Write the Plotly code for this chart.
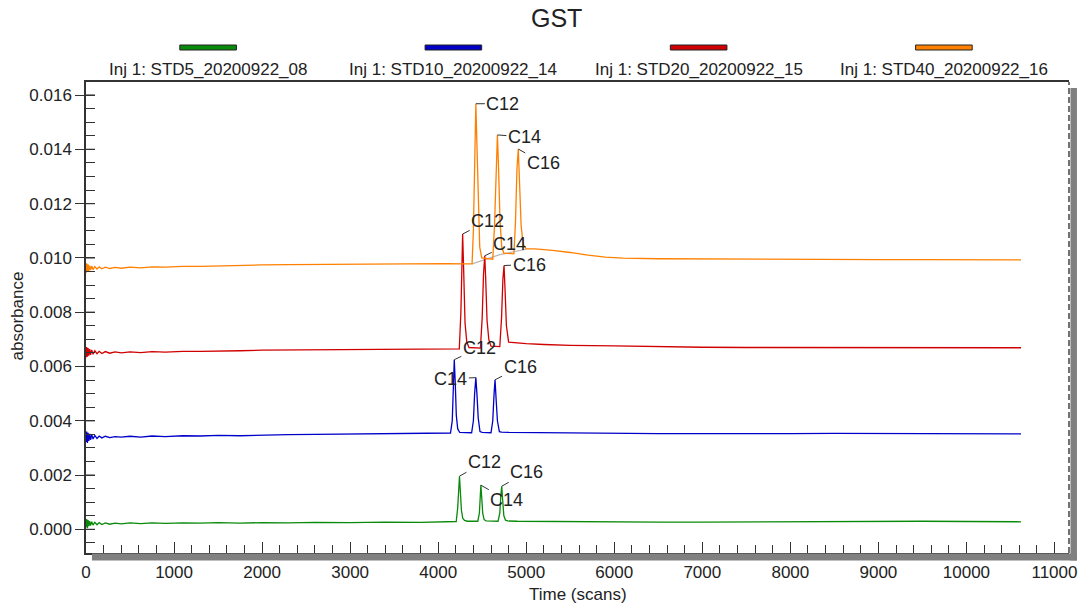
import plotly.graph_objects as go

# ---------------- data ----------------
series_names = ["Inj 1: STD5_20200922_08", "Inj 1: STD10_20200922_14",
                "Inj 1: STD20_20200922_15", "Inj 1: STD40_20200922_16"]
series_colors = ["#0a8a0a", "#0000c8", "#d00000", "#ff8000"]

green_scan = [0, 8, 16, 24, 32, 42, 52, 65, 80, 100, 125, 150, 180, 220, 270, 330, 400, 500, 620, 750,
              900, 1100, 1300, 1500, 1750, 2000, 2300, 2600, 3000, 3400, 3800, 4100,
              4205, 4222, 4232, 4242, 4252, 4264, 4280, 4300, 4330,
              4450, 4468, 4477, 4485, 4494, 4506, 4522, 4545,
              4680, 4700, 4713, 4722, 4732, 4746, 4765, 4790,
              4900, 5200, 5600, 6000, 6500, 7000, 7500, 8000, 8500, 9000, 9500, 10000, 10300, 10620]
green_abs = [0.00008, 0.00038, 0.00004, 0.00034, 0.00012, 0.00030, 0.00014, 0.00028, 0.00016, 0.00026,
             0.00017, 0.00025, 0.00018, 0.00024, 0.00019, 0.00023, 0.00020, 0.00024, 0.00021, 0.00024,
             0.00022, 0.00024, 0.00023, 0.00025, 0.00023, 0.00025, 0.00024, 0.00026, 0.00025, 0.00027,
             0.00026, 0.00028,
             0.00029, 0.00080, 0.00160, 0.00196, 0.00140, 0.00070, 0.00040, 0.00033, 0.00030,
             0.00030, 0.00060, 0.00130, 0.00163, 0.00120, 0.00060, 0.00036, 0.00031,
             0.00030, 0.00060, 0.00130, 0.00159, 0.00110, 0.00050, 0.00034, 0.00031,
             0.00030, 0.00029, 0.00028, 0.00028, 0.00027, 0.00027, 0.00028, 0.00029, 0.00030, 0.00030,
             0.00030, 0.00029, 0.00029, 0.00028]

blue_scan = [0, 8, 16, 24, 32, 42, 52, 65, 80, 100, 125, 150, 180, 220, 270, 330, 400, 500, 620, 750,
             900, 1100, 1300, 1500, 1750, 2000, 2300, 2600, 3000, 3400, 3800, 4000,
             4140, 4160, 4172, 4183, 4194, 4206, 4222, 4245,
             4380, 4400, 4414, 4428, 4440, 4455, 4475, 4500,
             4600, 4620, 4635, 4646, 4658, 4673, 4695, 4720,
             4800, 5100, 5500, 6000, 6500, 7000, 7500, 8000, 8500, 9000, 9500, 10000, 10300, 10620]
blue_abs = [0.00322, 0.00360, 0.00318, 0.00356, 0.00326, 0.00352, 0.00330, 0.00349, 0.00333, 0.00346,
            0.00335, 0.00344, 0.00337, 0.00343, 0.00338, 0.00342, 0.00340, 0.00343, 0.00340, 0.00344,
            0.00342, 0.00345, 0.00344, 0.00346, 0.00345, 0.00348, 0.00349, 0.00350, 0.00351, 0.00352,
            0.00354, 0.00353,
            0.00355, 0.00400, 0.00550, 0.00625, 0.00540, 0.00420, 0.00370, 0.00357,
            0.00356, 0.00400, 0.00500, 0.00559, 0.00500, 0.00410, 0.00360, 0.00357,
            0.00356, 0.00400, 0.00500, 0.00551, 0.00480, 0.00400, 0.00360, 0.00358,
            0.00357, 0.00356, 0.00355, 0.00354, 0.00353, 0.00353, 0.00352, 0.00353, 0.00354, 0.00353,
            0.00353, 0.00352, 0.00352, 0.00352]

red_scan = [0, 8, 16, 24, 32, 42, 52, 65, 80, 100, 125, 150, 180, 220, 270, 330, 400, 500, 620, 750,
            900, 1100, 1300, 1500, 1750, 2000, 2300, 2600, 3000, 3400, 3800, 4100,
            4240, 4258, 4268, 4278, 4290, 4305, 4325, 4350,
            4480, 4500, 4515, 4529, 4540, 4555, 4575, 4600,
            4700, 4720, 4735, 4748, 4760, 4775, 4800,
            4900, 5000, 5200, 5500, 6000, 6500, 7000, 7500, 8000, 8500, 9000, 9500, 10000, 10300, 10620]
red_abs = [0.00633, 0.00672, 0.00636, 0.00668, 0.00640, 0.00664, 0.00643, 0.00661, 0.00645, 0.00658,
           0.00647, 0.00656, 0.00648, 0.00655, 0.00649, 0.00654, 0.00650, 0.00654, 0.00651, 0.00655,
           0.00653, 0.00656, 0.00656, 0.00658, 0.00658, 0.00660, 0.00661, 0.00662, 0.00663, 0.00664,
           0.00665, 0.00665,
           0.00665, 0.00800, 0.01000, 0.01088, 0.00950, 0.00760, 0.00690, 0.00670,
           0.00668, 0.00780, 0.00940, 0.01008, 0.00920, 0.00770, 0.00700, 0.00675,
           0.00673, 0.00780, 0.00920, 0.00972, 0.00880, 0.00750, 0.00690,
           0.00686, 0.00684, 0.00681, 0.00678, 0.00676, 0.00673, 0.00671, 0.00670, 0.00670, 0.00671,
           0.00671, 0.00670, 0.00670, 0.00669, 0.00669]

orange_scan = [0, 8, 16, 24, 32, 42, 52, 65, 80, 100, 125, 150, 180, 220, 270, 330, 400, 500, 620, 750,
               900, 1100, 1300, 1500, 1750, 2000, 2300, 2600, 3000, 3400, 3800, 4100, 4300,
               4385, 4400, 4414, 4428, 4440, 4455, 4472, 4495,
               4620, 4640, 4658, 4673, 4686, 4702, 4722, 4745,
               4860, 4878, 4895, 4910, 4924, 4942, 4965, 5000,
               5100, 5300, 5500, 5700, 5900, 6100, 6500, 7000, 7500, 8000, 8500, 9000, 9500, 10000,
               10300, 10620]
orange_abs = [0.00944, 0.00980, 0.00948, 0.00976, 0.00952, 0.00972, 0.00955, 0.00970, 0.00957, 0.00968,
              0.00959, 0.00967, 0.00960, 0.00966, 0.00961, 0.00965, 0.00962, 0.00966, 0.00963, 0.00967,
              0.00966, 0.00969, 0.00969, 0.00971, 0.00972, 0.00974, 0.00975, 0.00976, 0.00977, 0.00978,
              0.00979, 0.00979, 0.00978,
              0.00978, 0.01100, 0.01400, 0.01568, 0.01420, 0.01180, 0.01040, 0.01000,
              0.00995, 0.01120, 0.01360, 0.01453, 0.01330, 0.01140, 0.01040, 0.01018,
              0.01015, 0.01130, 0.01330, 0.01401, 0.01280, 0.01120, 0.01050, 0.01033,
              0.01033, 0.01028, 0.01020, 0.01010, 0.01003, 0.00999, 0.00997, 0.00996, 0.00995, 0.00995,
              0.00994, 0.00994, 0.00994, 0.00993, 0.00993, 0.00993]

# integration baseline under the orange peaks
orange_base_scan = [4385, 4700, 5000]
orange_base_abs = [0.00978, 0.01012, 0.01032]

# peak labels: (series index, label, scan, absorbance, text offset x px, text offset y px)
peak_labels = [
    (3, "C12", 4428, 0.01568, 27, 0), (3, "C14", 4673, 0.01453, 27, 2), (3, "C16", 4910, 0.01401, 25, 14),
    (2, "C12", 4278, 0.01088, 25, -13), (2, "C14", 4529, 0.01008, 25, -12), (2, "C16", 4748, 0.00972, 25, -1),
    (1, "C12", 4183, 0.00625, 25, -12), (1, "C14", 4428, 0.00559, -25, 1), (1, "C16", 4646, 0.00551, 25, -13),
    (0, "C12", 4242, 0.00196, 25, -14), (0, "C14", 4485, 0.00163, 26, 15), (0, "C16", 4722, 0.00159, 25, -14),
]

x_range = [0, 11165]
y_range = [-0.00087, 0.01648]
y_major_ticks = [0.0, 0.002, 0.004, 0.006, 0.008, 0.010, 0.012, 0.014, 0.016]

all_scans = [green_scan, blue_scan, red_scan, orange_scan]
all_abs = [green_abs, blue_abs, red_abs, orange_abs]
for s, a in zip(all_scans, all_abs):
    assert len(s) == len(a), (len(s), len(a))

# ---------------- figure ----------------
W, H = 1089, 606
L, R, T, B = 86, 1076, 82, 553
FONT = "Arial, 'Liberation Sans', sans-serif"
TXT = "#222222"
SHADOW = "#808080"


def px_x(p):
    return (p - L) / (R - L)


def px_y(p):
    return (B - p) / (B - T)


fig = go.Figure()
fig.add_trace(go.Scatter(x=orange_base_scan, y=orange_base_abs, mode="lines",
                         line=dict(color="#b8b8b8", width=1.2), showlegend=False))
for name, col, s, a in zip(series_names, series_colors, all_scans, all_abs):
    fig.add_trace(go.Scatter(x=s, y=a, mode="lines", name=name,
                             line=dict(color=col, width=1.3), showlegend=False))

annotations = []
for si, lab, xs, ys, ax, ay in peak_labels:
    annotations.append(dict(x=xs, y=ys, xref="x", yref="y", text=lab, showarrow=True,
                            ax=ax, ay=ay, arrowhead=0, arrowwidth=1, arrowcolor="#333333",
                            standoff=0, font=dict(family=FONT, size=18, color=TXT)))


def paper_text(px, py, text, size, angle=0):
    return dict(x=px_x(px), y=px_y(py), xref="paper", yref="paper", text=text,
                xanchor="center", yanchor="middle", textangle=angle,
                showarrow=False, font=dict(family=FONT, size=size, color=TXT))


# title and axis titles
annotations.append(paper_text(560, 18, "GST", 25))
annotations.append(paper_text(581, 594, "Time (scans)", 17))
annotations.append(paper_text(17, 316, "absorbance", 17, -90))

# frame shadows and dashed right border
shapes = [
    dict(type="rect", xref="paper", yref="paper", x0=px_x(93), x1=px_x(1083),
         y0=px_y(559.5), y1=px_y(554.5), fillcolor=SHADOW, line=dict(color=SHADOW, width=2)),
    dict(type="rect", xref="paper", yref="paper", x0=px_x(1078.5), x1=px_x(1083),
         y0=px_y(559.5), y1=px_y(89), fillcolor=SHADOW, line=dict(color=SHADOW, width=2)),
    dict(type="line", xref="paper", yref="paper", x0=1, x1=1, y0=0, y1=1,
         line=dict(color="#444444", width=1.5, dash="6px,3px")),
]

# inner half of the crossing major y ticks
for yt in y_major_ticks:
    shapes.append(dict(type="line", xref="paper", yref="y", x0=0, x1=px_x(L + 9), y0=yt, y1=yt,
                       line=dict(color="#333333", width=1.2)))

# custom legend: swatch above text
legend_centers = [209, 456, 703, 950]
for name, col, cx in zip(series_names, series_colors, legend_centers):
    shapes.append(dict(type="rect", xref="paper", yref="paper",
                       x0=px_x(cx - 28.5), x1=px_x(cx + 28.5), y0=px_y(50), y1=px_y(45),
                       fillcolor=col, line=dict(color="#222222", width=1)))
    annotations.append(paper_text(cx, 69, name, 17))

axis_common = dict(showgrid=False, zeroline=False, tickcolor="#333333",
                   tickfont=dict(family=FONT, size=17, color=TXT))

fig.update_layout(
    width=W, height=H,
    margin=dict(l=L, r=W - R, t=T, b=H - B),
    paper_bgcolor="white", plot_bgcolor="white",
    showlegend=False,
    xaxis=dict(range=x_range, tick0=0, dtick=1000, tickformat="d", ticks="inside", ticklen=11,
               tickwidth=1.2, showline=True, linecolor="#333333", linewidth=1.5, mirror=True,
               minor=dict(dtick=200, tick0=0, ticks="inside", ticklen=8, tickcolor="#333333", tickwidth=1),
               ticklabelstandoff=3, **axis_common),
    yaxis=dict(range=y_range, tickvals=y_major_ticks, tickformat=".3f", ticks="outside", ticklen=9,
               tickwidth=1.2, showline=True, linecolor="#333333", linewidth=1.5,
               minor=dict(dtick=0.0005, tick0=0, ticks="inside", ticklen=9, tickcolor="#333333", tickwidth=1),
               **axis_common),
    annotations=annotations,
    shapes=shapes,
)

fig.write_html("out.html")
